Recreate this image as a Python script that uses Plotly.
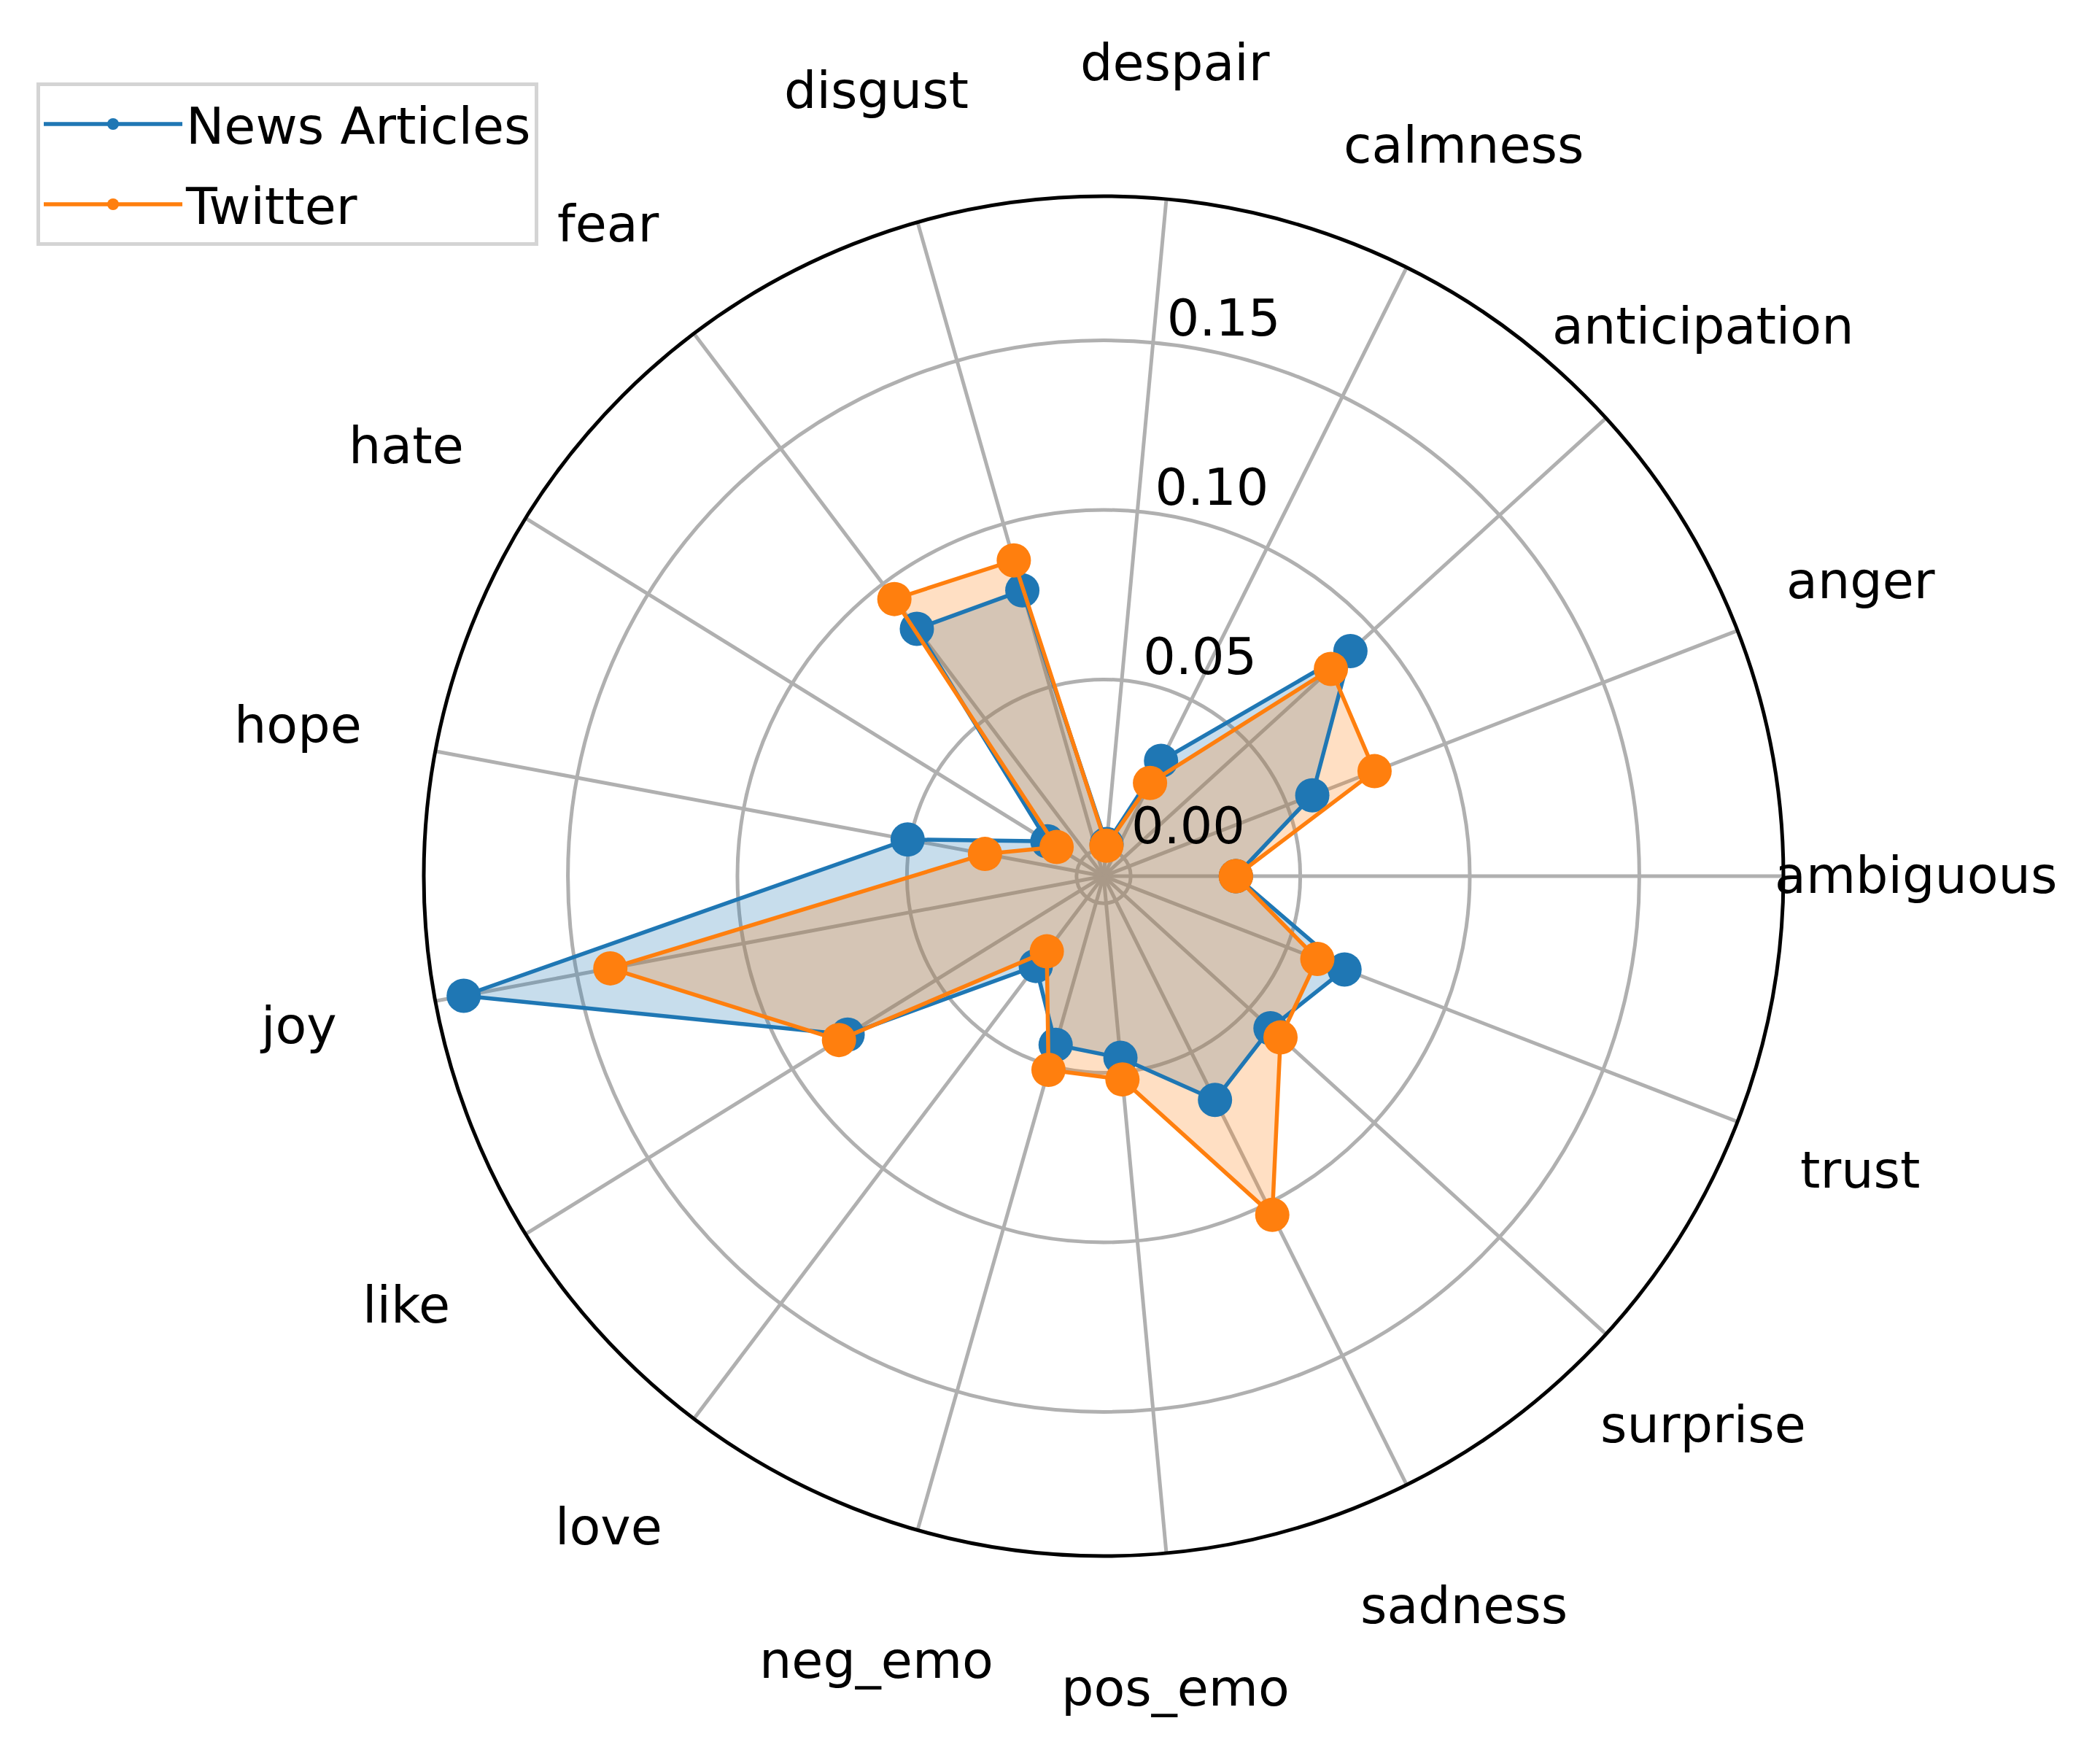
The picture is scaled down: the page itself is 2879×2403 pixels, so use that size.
import math
import plotly.graph_objects as go

categories = ["ambiguous", "anger", "anticipation", "calmness", "despair", "disgust",
              "fear", "hate", "hope", "joy", "like", "love", "neg_emo", "pos_emo",
              "sadness", "surprise", "trust"]

news_values = [0.031, 0.058, 0.0905, 0.030, 0.0015, 0.0796, 0.0834, 0.0115, 0.0508,
               0.184, 0.0808, 0.0252, 0.0437, 0.0458, 0.0657, 0.0586, 0.0682]
twitter_values = [0.031, 0.0777, 0.0827, 0.0227, 0.001, 0.0888, 0.0944, 0.0083, 0.0276,
                  0.140, 0.0838, 0.0198, 0.0514, 0.0522, 0.1036, 0.0626, 0.0596]

radial_ticks = [0.0, 0.05, 0.10, 0.15]
radial_ticktext = ["0.00", "0.05", "0.10", "0.15"]

W, H = 2879, 2403
FONT = "DejaVu Sans"
FS = 70
R_MIN, R_MAX = -0.008, 0.1925

series = [
    ("News Articles", news_values, "#1f77b4", "rgba(31,119,180,0.25)"),
    ("Twitter", twitter_values, "#ff7f0e", "rgba(255,127,14,0.25)"),
]

fig = go.Figure()
# fills first
for name, vals, color, fill in series:
    fig.add_trace(go.Scatterpolar(
        r=vals + vals[:1], theta=categories + categories[:1],
        mode="lines", line=dict(width=0, color=color),
        fill="toself", fillcolor=fill,
        showlegend=False, hoverinfo="skip",
    ))
# lines and markers on top
for i, (name, vals, color, fill) in enumerate(series):
    fig.add_trace(go.Scatterpolar(
        r=vals + vals[:1], theta=categories + categories[:1],
        name=name, legendgroup=f"g{i}",
        mode="lines+markers",
        line=dict(color=color, width=5.5),
        marker=dict(color=color, size=47),
    ))

# polar frame geometry (pixels)
cx, cy, R = 1505, 1193, 932          # requested domain centre / radius
lcx, lcy = cx - 5, cy - 1            # label ring centre
LABEL_RPX = 1.2 * R                  # category label centre radius

annotations = []
n = len(categories)
for i, cat in enumerate(categories):
    a = 2 * math.pi * i / n
    xp = lcx + LABEL_RPX * math.cos(a)
    yp = lcy - LABEL_RPX * math.sin(a)
    annotations.append(dict(
        text=cat, x=xp / W, y=1 - yp / H, xref="paper", yref="paper",
        xanchor="center", yanchor="middle", showarrow=False,
        font=dict(family=FONT, size=FS, color="black"),
    ))

fig.update_layout(
    width=W, height=H,
    margin=dict(l=0, r=0, t=0, b=0),
    paper_bgcolor="white",
    plot_bgcolor="white",
    font=dict(family=FONT, size=FS, color="black"),
    annotations=annotations,
    polar=dict(
        domain=dict(x=[(cx - R) / W, (cx + R) / W],
                    y=[(H - cy - R) / H, (H - cy + R) / H]),
        bgcolor="white",
        angularaxis=dict(
            type="category",
            categoryorder="array",
            categoryarray=categories,
            rotation=0,
            direction="counterclockwise",
            showline=True, linecolor="black", linewidth=5,
            gridcolor="#b0b0b0", gridwidth=4.5,
            ticks="", showticklabels=False,
        ),
        radialaxis=dict(
            range=[R_MIN, R_MAX],
            tickvals=radial_ticks,
            ticktext=[t + "<br> " for t in radial_ticktext],
            angle=86,
            tickangle=86,
            side="clockwise",
            showline=False,
            ticks="",
            gridcolor="#b0b0b0", gridwidth=4.5,
            tickfont=dict(family=FONT, size=FS, color="black"),
        ),
    ),
    legend=dict(
        x=42 / W, y=1 - 105 / H, xanchor="left", yanchor="top",
        bgcolor="white", bordercolor="#d4d4d4", borderwidth=5,
        font=dict(family=FONT, size=FS, color="black"),
        itemwidth=190, tracegroupgap=16,
    ),
)

fig.write_html("out.html")
